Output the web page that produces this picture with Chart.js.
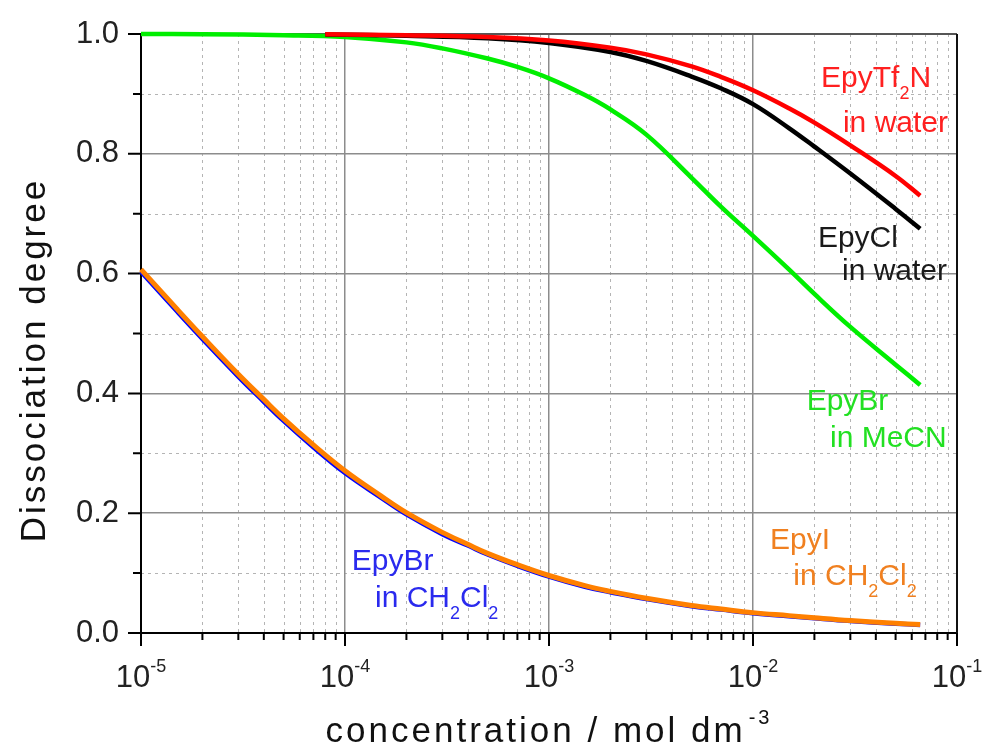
<!DOCTYPE html>
<html><head><meta charset="utf-8">
<script src="https://cdn.jsdelivr.net/npm/chart.js@4.4.1/dist/chart.umd.min.js"></script>
<style>html,body{margin:0;padding:0;background:#fff;}canvas{display:block;}</style>
</head><body>
<canvas id="c" width="985" height="749"></canvas>
<script>
// ---------- data ----------
const xTickValues = [1e-5, 1e-4, 1e-3, 1e-2, 1e-1];
const xTickExponents = ['-5', '-4', '-3', '-2', '-1'];
const yTickValues = [0, 0.2, 0.4, 0.6, 0.8, 1.0];
const yMinorValues = [0.1, 0.3, 0.5, 0.7, 0.9];

const concWater = [8e-5, 2e-4, 5e-4, 1e-3, 2e-3, 3e-3, 5e-3, 7e-3, 1e-2, 1.5e-2, 2e-2, 3e-2, 5e-2, 6.6e-2];
const alphaTf2NWater = [0.9995, 0.998, 0.995, 0.989, 0.977, 0.966, 0.946, 0.928, 0.906, 0.876, 0.852, 0.814, 0.763, 0.730];
const alphaClWater   = [0.999, 0.997, 0.993, 0.985, 0.970, 0.955, 0.929, 0.909, 0.883, 0.843, 0.812, 0.767, 0.708, 0.675];

const concMeCN = [1e-5, 2e-5, 5e-5, 1e-4, 2e-4, 3e-4, 5e-4, 7e-4, 1e-3, 1.5e-3, 2e-3, 3e-3, 5e-3, 7e-3, 1e-2, 1.5e-2, 2e-2, 3e-2, 5e-2, 6.6e-2];
const alphaBrMeCN = [1.0, 0.9995, 0.998, 0.995, 0.986, 0.976, 0.959, 0.945, 0.926, 0.898, 0.874, 0.832, 0.760, 0.711, 0.663, 0.607, 0.566, 0.511, 0.448, 0.414];

const concCH2Cl2 = [1e-5, 1.5e-5, 2e-5, 3e-5, 4e-5, 5e-5, 7e-5, 1e-4, 1.5e-4, 2e-4, 3e-4, 4e-4, 5e-4, 7e-4, 1e-3, 1.5e-3, 2e-3, 3e-3, 5e-3, 7e-3, 1e-2, 1.5e-2, 2e-2, 3e-2, 5e-2, 6.6e-2];
const alphaICH2Cl2  = [0.607, 0.541, 0.495, 0.432, 0.390, 0.358, 0.314, 0.271, 0.229, 0.201, 0.168, 0.148, 0.133, 0.114, 0.096, 0.079, 0.0695, 0.058, 0.046, 0.040, 0.034, 0.029, 0.0254, 0.0208, 0.0163, 0.0142];
const alphaBrCH2Cl2 = [0.603, 0.537, 0.491, 0.428, 0.386, 0.354, 0.310, 0.267, 0.226, 0.198, 0.165, 0.146, 0.131, 0.112, 0.094, 0.077, 0.068, 0.0565, 0.0448, 0.039, 0.033, 0.028, 0.0245, 0.020, 0.0155, 0.0135];

const yTitle = 'Dissociation degree';
const xTitle = 'concentration / mol dm';
const xTitleSup = '-3';

// annotation texts: runs of [text, isSubscript]; anchored at (concentration, degree)
const annotations = [
  {color: '#ff2020', lines: [[['EpyTf', 0], ['2', 1], ['N', 0]], [['in water', 0]]], at: [[0.02155, 0.911], [0.0276, 0.837]]},
  {color: '#1a1a1a', lines: [[['EpyCl', 0]], [['in water', 0]]], at: [[0.0208, 0.645], [0.0273, 0.589]]},
  {color: '#22e022', lines: [[['EpyBr', 0]], [['in MeCN', 0]]], at: [[0.01832, 0.373], [0.02385, 0.311]]},
  {color: '#f08020', lines: [[['EpyI', 0]], [['in CH', 0], ['2', 1], ['Cl', 0], ['2', 1]]], at: [[0.01212, 0.141], [0.01576, 0.080]]},
  {color: '#2a2aee', lines: [[['EpyBr', 0]], [['in CH', 0], ['2', 1], ['Cl', 0], ['2', 1]]], at: [[1.079e-4, 0.105], [1.403e-4, 0.044]]}
];

// ---------- drawing ----------
const FONT = '"Liberation Sans", Arial, Helvetica, sans-serif';
const pts = (xs, ys) => xs.map((v, i) => ({x: v, y: ys[i]}));

function xMinorValues() {
  const out = [];
  for (let i = 0; i < xTickValues.length - 1; i++)
    for (let k = 2; k <= 9; k++) out.push(k * xTickValues[i]);
  return out;
}

function drawRuns(ctx, runs, x, y, size, subSize, subDy) {
  let cx = x;
  for (const [t, sub] of runs) {
    ctx.font = (sub ? subSize : size) + 'px ' + FONT;
    ctx.fillText(t, cx, sub ? y + subDy : y);
    cx += ctx.measureText(t).width;
  }
}

const decor = {
  id: 'decor',
  beforeDraw(chart) {
    const {ctx, chartArea: a, scales: {x, y}} = chart;
    ctx.save();
    ctx.fillStyle = '#fff';
    ctx.fillRect(0, 0, chart.width, chart.height);
    ctx.strokeStyle = '#b4b4b4';
    ctx.lineWidth = 1;
    ctx.setLineDash([3, 4]);
    ctx.beginPath();
    for (const v of xMinorValues()) {
      const px = Math.round(x.getPixelForValue(v)) + 0.5;
      ctx.moveTo(px, a.top); ctx.lineTo(px, a.bottom);
    }
    for (const v of yMinorValues) {
      const py = Math.round(y.getPixelForValue(v)) + 0.5;
      ctx.moveTo(a.left, py); ctx.lineTo(a.right, py);
    }
    ctx.stroke();
    ctx.restore();
  },
  beforeDatasetsDraw(chart) {
    const {ctx, chartArea: a, scales: {x, y}} = chart;
    ctx.save();
    ctx.strokeStyle = '#555';
    ctx.lineWidth = 2;
    ctx.beginPath(); ctx.moveTo(a.left, a.top); ctx.lineTo(a.right, a.top); ctx.stroke();
    ctx.strokeStyle = '#111';
    ctx.beginPath(); ctx.moveTo(a.right, a.top); ctx.lineTo(a.right, a.bottom); ctx.stroke();
    ctx.strokeStyle = '#000';
    ctx.lineWidth = 2;
    ctx.beginPath();
    for (const v of yTickValues) { const py = y.getPixelForValue(v); ctx.moveTo(a.left, py); ctx.lineTo(a.left - 13, py); }
    for (const v of yMinorValues) { const py = y.getPixelForValue(v); ctx.moveTo(a.left, py); ctx.lineTo(a.left - 8, py); }
    for (const v of xTickValues) { const px = x.getPixelForValue(v); ctx.moveTo(px, a.bottom); ctx.lineTo(px, a.bottom + 13); }
    for (const v of xMinorValues()) { const px = x.getPixelForValue(v); ctx.moveTo(px, a.bottom); ctx.lineTo(px, a.bottom + 7); }
    ctx.stroke();
    ctx.restore();
  },
  afterDraw(chart) {
    const {ctx, chartArea: a, scales: {x, y}} = chart;
    ctx.save();
    ctx.fillStyle = '#222';
    ctx.textBaseline = 'alphabetic';
    ctx.textAlign = 'left';
    xTickValues.forEach((v, i) => {
      ctx.font = '31px ' + FONT;
      const w1 = ctx.measureText('10').width;
      ctx.font = '18px ' + FONT;
      const w2 = ctx.measureText(xTickExponents[i]).width;
      const px = x.getPixelForValue(v);
      const x0 = px - (w1 + w2) / 2;
      ctx.font = '31px ' + FONT;
      ctx.fillText('10', x0, a.bottom + 54);
      ctx.font = '18px ' + FONT;
      ctx.fillText(xTickExponents[i], x0 + w1, a.bottom + 39);
    });
    ctx.fillStyle = '#111';
    ctx.letterSpacing = '3px';
    ctx.font = '35px ' + FONT;
    const tw = ctx.measureText(xTitle).width;
    ctx.font = '20px ' + FONT;
    const sw = ctx.measureText(xTitleSup).width;
    const cx = (a.left + a.right) / 2;
    const tx = cx - (tw + sw + 3) / 2;
    ctx.font = '35px ' + FONT;
    ctx.fillText(xTitle, tx, 742);
    ctx.font = '20px ' + FONT;
    ctx.fillText(xTitleSup, tx + tw + 3, 724);
    ctx.save();
    ctx.translate(45, 360);
    ctx.rotate(-Math.PI / 2);
    ctx.textAlign = 'center';
    ctx.font = '35px ' + FONT;
    ctx.fillText(yTitle, 0, 0);
    ctx.restore();
    ctx.letterSpacing = '0px';
    for (const an of annotations) {
      ctx.fillStyle = an.color;
      an.lines.forEach((runs, li) => {
        const px = x.getPixelForValue(an.at[li][0]);
        const py = y.getPixelForValue(an.at[li][1]);
        drawRuns(ctx, runs, px, py, 30, 18, 12);
      });
    }
    ctx.restore();
  }
};

const ds = (label, data, color, w) => ({
  label, data, borderColor: color, backgroundColor: color, borderWidth: w,
  pointRadius: 0, fill: false, tension: 0.4, clip: 8
});

new Chart(document.getElementById('c'), {
  type: 'line',
  data: {
    datasets: [
      ds('EpyTf2N in water', pts(concWater, alphaTf2NWater), '#ff0000', 4.5),
      ds('EpyCl in water', pts(concWater, alphaClWater), '#000000', 4.5),
      ds('EpyBr in MeCN', pts(concMeCN, alphaBrMeCN), '#00ee00', 4.5),
      ds('EpyI in CH2Cl2', pts(concCH2Cl2, alphaICH2Cl2), '#ff8000', 5),
      ds('EpyBr in CH2Cl2', pts(concCH2Cl2, alphaBrCH2Cl2), '#0000ff', 4.5)
    ]
  },
  options: {
    responsive: false,
    animation: false,
    events: [],
    layout: {padding: {top: 34, right: 28, left: 0, bottom: 0}},
    plugins: {legend: {display: false}, tooltip: {enabled: false}},
    scales: {
      x: {
        type: 'logarithmic', min: 1e-5, max: 1e-1,
        afterBuildTicks: s => { s.ticks = xTickValues.map(v => ({value: v, major: true})); },
        afterFit: s => { s.height = 116; s.paddingLeft = 0; s.paddingRight = 0; },
        ticks: {display: false},
        grid: {color: '#8c8c8c', lineWidth: 1.5, drawTicks: false},
        border: {color: '#000', width: 2}
      },
      y: {
        type: 'linear', min: 0, max: 1,
        afterBuildTicks: s => { s.ticks = yTickValues.map(v => ({value: v})); },
        afterFit: s => { s.width = 141; s.paddingTop = 0; s.paddingBottom = 0; },
        ticks: {
          font: {family: FONT, size: 31}, color: '#222', padding: 22,
          callback: v => Number(v).toFixed(1)
        },
        grid: {color: '#8c8c8c', lineWidth: 1.5, drawTicks: false},
        border: {color: '#000', width: 2}
      }
    }
  },
  plugins: [decor]
});
</script>
</body></html>
